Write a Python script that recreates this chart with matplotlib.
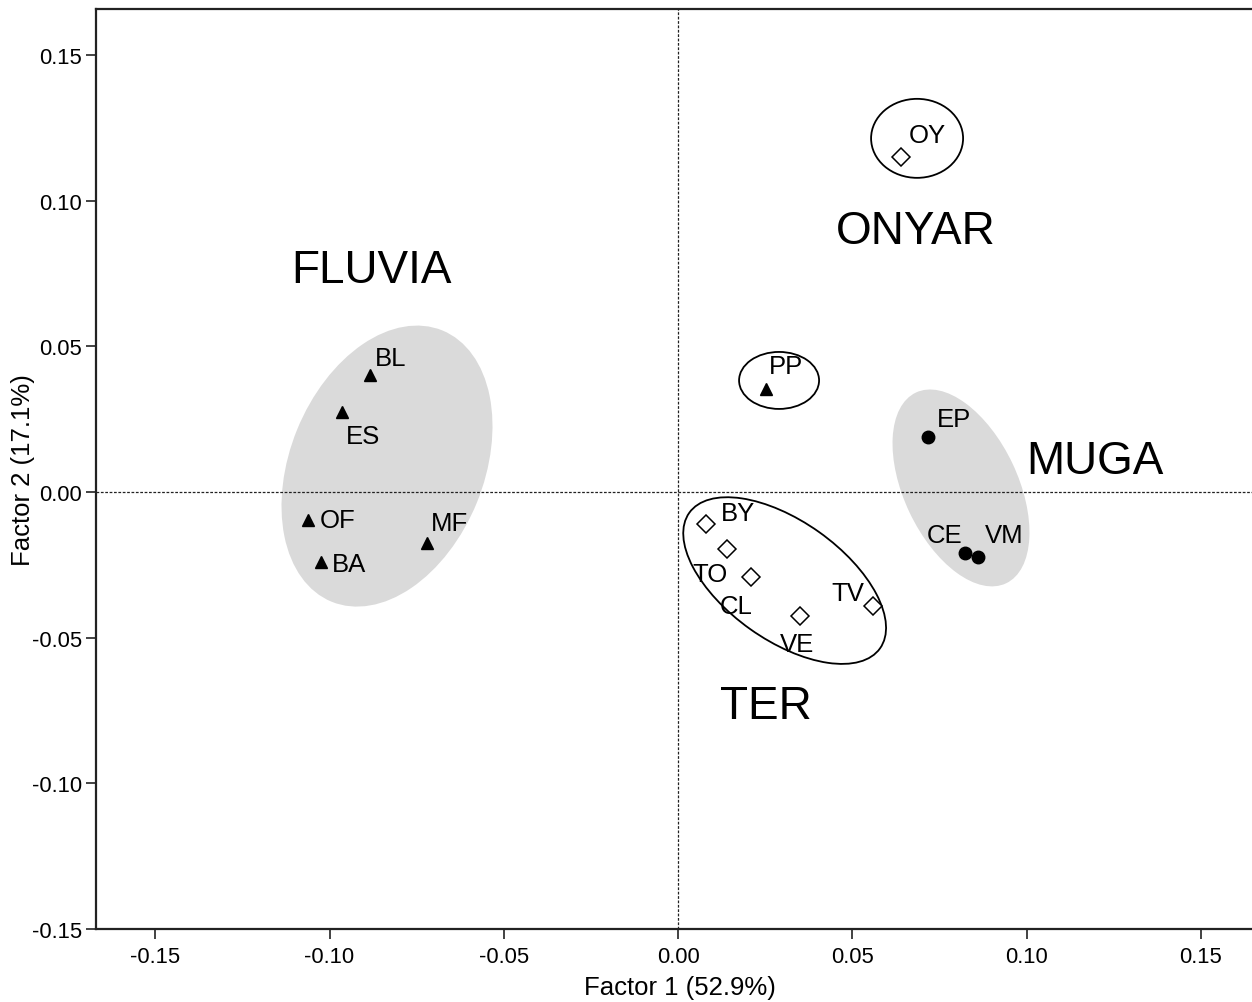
import matplotlib
matplotlib.use("Agg")
import matplotlib.pyplot as plt
from matplotlib.patches import Ellipse
from matplotlib.transforms import Affine2D

plt.rcParams['font.family'] = ['Liberation Sans', 'DejaVu Sans']
plt.rcParams['axes.unicode_minus'] = False

# ---- data ----
fluvia_names = ["BL", "ES", "OF", "BA", "MF", "PP"]
fluvia_x = [-0.0884, -0.0964, -0.1061, -0.1024, -0.0720, 0.0252]
fluvia_y = [0.0402, 0.0275, -0.0096, -0.0240, -0.0175, 0.0354]

muga_names = ["EP", "CE", "VM"]
muga_x = [0.0717, 0.0823, 0.0861]
muga_y = [0.0189, -0.0209, -0.0223]

ter_names = ["OY", "BY", "TO", "CL", "VE", "TV"]
ter_x = [0.0640, 0.0080, 0.0141, 0.0209, 0.0350, 0.0559]
ter_y = [0.1150, -0.0110, -0.0196, -0.0292, -0.0426, -0.0391]

group_names = ["FLUVIA", "ONYAR", "MUGA", "TER"]
group_x = [-0.0880, 0.0683, 0.1197, 0.0252]
group_y = [0.0762, 0.0896, 0.0107, -0.0735]

xticks = [-0.15, -0.10, -0.05, 0.00, 0.05, 0.10, 0.15]
yticks = [-0.15, -0.10, -0.05, 0.00, 0.05, 0.10, 0.15]
xlabel = "Factor 1 (52.9%)"
ylabel = "Factor 2 (17.1%)"

# ---- layout / style ----
label_offsets = {  # pixel offsets of point labels (dx, dy up)
    "BL": (21, 17), "ES": (21, -24), "OF": (29, 0), "BA": (28, -2), "MF": (22, 20),
    "PP": (20, 23), "OY": (26, 22), "EP": (26, 18), "CE": (-20, 18), "VM": (26, 22),
    "BY": (32, 11), "TO": (-17, -25), "CL": (-15, -29), "VE": (-3, -28), "TV": (-25, 13),
}
# ellipses: centre (data), width/height (pixels), angle (deg), filled?
ellipses = [
    ((-0.0835, 0.0089), 293, 194, 67.8, True),
    ((0.0812, 0.0014), 211, 114, 115.3, True),
    ((0.0306, -0.0304), 234, 119, -35.4, False),
    ((0.0290, 0.0383), 80, 57, 0.0, False),
    ((0.0686, 0.1214), 92, 79, 0.0, False),
]

W, H = 1252, 1003
fig = plt.figure(figsize=(W / 100, H / 100), dpi=100)
ax = fig.add_axes([96 / W, (H - 930) / H, (W - 96) / W, (930 - 10) / H])
xmin, xmax = -0.167, 0.1647
ymin, ymax = -0.15, 0.1658
ax.set_xlim(xmin, xmax)
ax.set_ylim(ymin, ymax)

axw = W - 96
axh = 930 - 10
kx = (xmax - xmin) / axw
ky = (ymax - ymin) / axh
etrans = Affine2D().scale(kx, ky) + ax.transData

for (cx, cy), ew, eh, ang, filled in ellipses:
    if filled:
        e = Ellipse((cx / kx, cy / ky), ew, eh, angle=ang, facecolor='#dadada',
                    edgecolor='none', transform=etrans, zorder=1)
    else:
        e = Ellipse((cx / kx, cy / ky), ew, eh, angle=ang, facecolor='none',
                    edgecolor='black', linewidth=1.3, transform=etrans, zorder=3)
    ax.add_patch(e)

ax.axhline(0, color='#222222', linewidth=0.9, linestyle=(0, (2.2, 1.3)), zorder=2)
ax.axvline(0, color='#222222', linewidth=0.9, linestyle=(0, (2.2, 1.3)), zorder=2)

ax.plot(fluvia_x, fluvia_y, linestyle='none', marker='^', markersize=8.5,
        color='black', zorder=4)
ax.plot(muga_x, muga_y, linestyle='none', marker='o', markersize=9,
        color='black', zorder=4)
ax.plot(ter_x, ter_y, linestyle='none', marker='D', markersize=9.2,
        markerfacecolor='white', markeredgecolor='black', markeredgewidth=1.1, zorder=4)

for names, xs, ys in [(fluvia_names, fluvia_x, fluvia_y),
                      (muga_names, muga_x, muga_y),
                      (ter_names, ter_x, ter_y)]:
    for n, x, y in zip(names, xs, ys):
        ax.annotate(n, (x, y), xytext=label_offsets[n], textcoords='offset pixels',
                    ha='center', va='center', fontsize=18.5, zorder=5)

for n, x, y in zip(group_names, group_x, group_y):
    ax.text(x, y, n, ha='center', va='center', fontsize=33, zorder=5)

ax.set_xticks(xticks)
ax.set_yticks(yticks)
ax.set_xticklabels([f"{t:.2f}" for t in xticks])
ax.set_yticklabels([f"{t:.2f}" for t in yticks])
ax.tick_params(direction='out', length=7.2, width=1.2, labelsize=15.8, color='#222222')
ax.tick_params(axis='x', pad=5)
ax.tick_params(axis='y', pad=3)

for s in ['left', 'bottom', 'top']:
    ax.spines[s].set_linewidth(1.6)
    ax.spines[s].set_color('#222222')
ax.spines['right'].set_visible(False)

fig.text(680 / W, 1 - 988 / H, xlabel, ha='center', va='center', fontsize=18.5)
fig.text(23 / W, 1 - 470 / H, ylabel, ha='center', va='center', fontsize=18.5, rotation=90)

fig.savefig("out.png", dpi=100)
